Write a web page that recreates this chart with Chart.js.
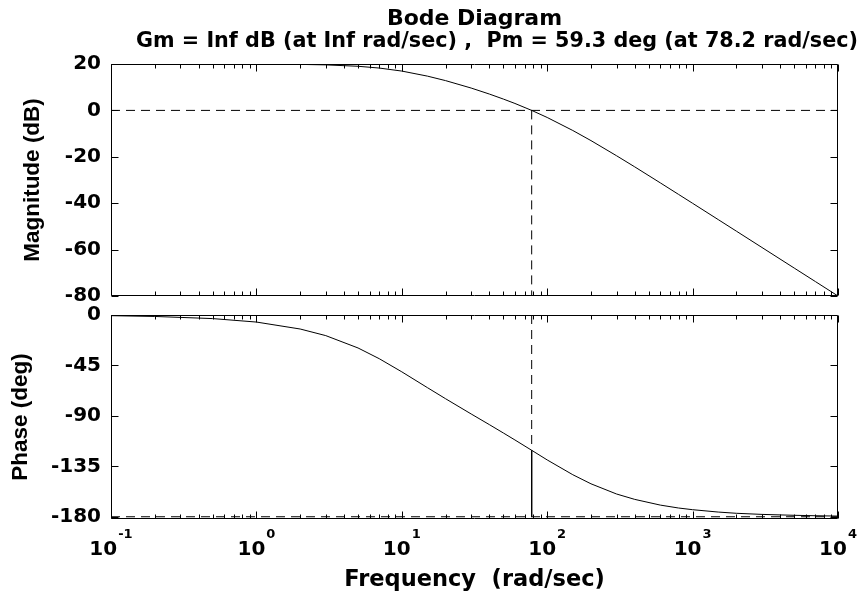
<!DOCTYPE html>
<html lang="en">
<head>
<meta charset="UTF-8">
<title>Bode Diagram</title>
<script src="https://cdn.jsdelivr.net/npm/chart.js"></script>
<style>
  body { margin: 0; background: #fff; overflow: hidden; }
  #wrap { position: relative; width: 861px; height: 592px; }
  canvas { position: absolute; left: 0; top: 0; }
</style>
</head>
<body>
<div id="wrap">
  <canvas id="magChart" width="861" height="592"></canvas>
  <canvas id="phaseChart" width="861" height="592"></canvas>
</div>
<script>
// frequency points (rad/sec) with magnitude / phase
const freq = [0.1, 0.2, 0.5, 1, 2, 3, 5, 7, 10, 15, 20, 30, 40, 50, 60, 78.2, 100, 150, 200, 300, 400, 600, 800, 1000, 1500, 2000, 3000, 5000, 7000, 10000];
const magDb = [20.0, 20.0, 19.99, 19.96, 19.83, 19.62, 19.02, 18.25, 16.95, 14.78, 12.84, 9.63, 7.05, 4.88, 2.99, 0.0, -3.05, -8.66, -13.02, -19.55, -24.34, -31.24, -36.19, -40.04, -47.06, -52.05, -59.09, -67.96, -73.8, -80.0];
const phaseDeg = [-0.6, -1.3, -3.2, -6.3, -12.5, -18.4, -29.4, -39.0, -50.7, -64.8, -74.7, -88.3, -97.8, -105.3, -111.5, -120.7, -129.3, -142.5, -150.6, -159.7, -164.5, -169.6, -172.2, -173.7, -175.8, -176.9, -177.9, -178.7, -179.1, -179.4];

const magTicks = [-80, -60, -40, -20, 0, 20];
const phaseTicks = [-180, -135, -90, -45, 0];
const decades = [0.1, 1, 10, 100, 1000, 10000];
const decadeExp = ['-1', '0', '1', '2', '3', '4'];

const wcp = 78.2;   // gain crossover, rad/sec
const pm = 59.3;    // phase margin, deg
const titleText = 'Bode Diagram';
const marginText = 'Gm = Inf dB (at Inf rad/sec) ,  Pm = 59.3 deg (at 78.2 rad/sec)';

const black = '#000';
const numFont = { family: 'DejaVu Sans', size: 20, weight: 'bold' };
const labelFont = { family: 'Liberation Sans', size: 22.5, weight: 'bold', lineHeight: 1 };

function line(points, dash) {
  return { data: points, borderColor: black, borderWidth: 1, pointRadius: 0, tension: 0, borderDash: dash || [] };
}

// matlab style box with inward ticks on all four sides
const boxTicks = {
  id: 'boxTicks',
  afterDatasetsDraw(chart) {
    const { ctx, chartArea: a, scales: { x, y } } = chart;
    const L = Math.round(a.left) + 0.5, R = Math.round(a.right) - 0.5;
    const T = Math.round(a.top) + 0.5, B = Math.round(a.bottom) - 0.5;
    ctx.save();
    ctx.strokeStyle = black;
    ctx.lineWidth = 1;
    ctx.beginPath();
    ctx.rect(L, T, R - L, B - T);
    decades.forEach((d, i) => {
      const last = i === decades.length - 1;
      for (let m = 1; m <= (last ? 1 : 9); m++) {
        const px = Math.round(x.getPixelForValue(m * d)) + 0.5;
        const len = m === 1 ? 7 : 4;
        ctx.moveTo(px, B); ctx.lineTo(px, B - len);
        ctx.moveTo(px, T); ctx.lineTo(px, T + len);
      }
    });
    y.ticks.forEach(t => {
      const py = Math.round(y.getPixelForValue(t.value)) + 0.5;
      ctx.moveTo(L, py); ctx.lineTo(L + 7, py);
      ctx.moveTo(R, py); ctx.lineTo(R - 7, py);
    });
    ctx.stroke();
    ctx.restore();
  }
};

const marginLabel = {
  id: 'marginLabel',
  afterDraw(chart) {
    const { ctx, chartArea: a } = chart;
    ctx.save();
    ctx.fillStyle = black;
    ctx.font = 'bold 21px "DejaVu Sans"';
    ctx.textAlign = 'right';
    ctx.textBaseline = 'alphabetic';
    ctx.fillText(marginText, a.right + 20, 47, 722);
    ctx.restore();
  }
};

// 10^n labels under the phase plot
const decadeLabels = {
  id: 'decadeLabels',
  afterDraw(chart) {
    const { ctx, chartArea: a, scales: { x } } = chart;
    ctx.save();
    ctx.fillStyle = black;
    ctx.textAlign = 'left';
    ctx.textBaseline = 'alphabetic';
    decades.forEach((v, i) => {
      const px = x.getPixelForValue(v);
      ctx.font = 'bold 20px "DejaVu Sans"';
      const wb = ctx.measureText('10').width;
      ctx.font = 'bold 13px "DejaVu Sans"';
      const we = ctx.measureText(decadeExp[i]).width;
      const x0 = px - (wb + 1 + we) / 2;
      ctx.font = 'bold 20px "DejaVu Sans"';
      ctx.fillText('10', x0, a.bottom + 36);
      ctx.font = 'bold 13px "DejaVu Sans"';
      ctx.fillText(decadeExp[i], x0 + wb + 1, a.bottom + 19);
    });
    ctx.restore();
  }
};

const common = {
  responsive: false,
  animation: false,
  devicePixelRatio: 1,
  events: [],
};

new Chart(document.getElementById('magChart'), {
  type: 'line',
  data: {
    datasets: [
      line(freq.map((f, i) => ({ x: f, y: magDb[i] }))),
      line([{ x: decades[0], y: 0 }, { x: decades[5], y: 0 }], [9, 6]),
      line([{ x: wcp, y: 0 }, { x: wcp, y: magTicks[0] }], [9, 6])
    ]
  },
  options: {
    ...common,
    layout: { padding: { left: 0, right: 23, top: 0, bottom: 296 } },
    plugins: {
      legend: { display: false },
      tooltip: { enabled: false },
      title: {
        display: true, text: titleText, fullSize: false, color: black,
        font: { family: 'DejaVu Sans', size: 22, weight: 'bold', lineHeight: 1 },
        padding: { top: 8, bottom: 34 }
      }
    },
    scales: {
      x: { type: 'logarithmic', min: 0.1, max: 10000, display: false },
      y: {
        min: -80, max: 20,
        afterBuildTicks: s => { s.ticks = magTicks.map(v => ({ value: v })); },
        afterFit: s => { s.width = 111; },
        grid: { display: false, drawTicks: false },
        border: { display: false },
        ticks: { color: black, padding: 10, font: numFont, callback: v => String(v) },
        title: { display: true, text: 'Magnitude (dB)', color: black, font: labelFont, padding: { top: 21.75, bottom: 0 } }
      }
    }
  },
  plugins: [boxTicks, marginLabel]
});

new Chart(document.getElementById('phaseChart'), {
  type: 'line',
  data: {
    datasets: [
      line(freq.map((f, i) => ({ x: f, y: phaseDeg[i] }))),
      line([{ x: decades[0], y: -180 }, { x: decades[5], y: -180 }], [9, 6]),
      line([{ x: wcp, y: 0 }, { x: wcp, y: pm - 180 }], [9, 6]),
      line([{ x: wcp, y: pm - 180 }, { x: wcp, y: -180 }])
    ]
  },
  options: {
    ...common,
    layout: { padding: { left: 0, right: 23, top: 315, bottom: 0 } },
    plugins: { legend: { display: false }, tooltip: { enabled: false } },
    scales: {
      x: {
        type: 'logarithmic', min: 0.1, max: 10000,
        afterFit: s => { s.height = 73; },
        grid: { display: false, drawTicks: false },
        border: { display: false },
        ticks: { display: false },
        title: {
          display: true, text: 'Frequency  (rad/sec)', color: black,
          font: { family: 'DejaVu Sans', size: 22.5, weight: 'bold', lineHeight: 1 },
          padding: { top: 0, bottom: 1 }
        }
      },
      y: {
        min: -182, max: 0,
        afterBuildTicks: s => { s.ticks = phaseTicks.map(v => ({ value: v })); },
        afterFit: s => { s.width = 111; },
        grid: { display: false, drawTicks: false },
        border: { display: false },
        ticks: { color: black, padding: 10, font: numFont, callback: v => String(v) },
        title: { display: true, text: 'Phase (deg)', color: black, font: labelFont, padding: { top: 9.5, bottom: 0 } }
      }
    }
  },
  plugins: [boxTicks, decadeLabels]
});
</script>
</body>
</html>
